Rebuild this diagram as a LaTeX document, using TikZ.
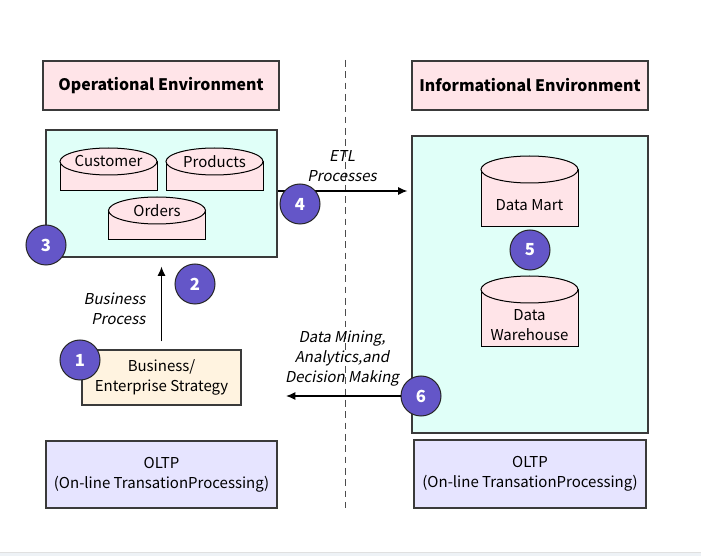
\documentclass[tikz,border=0pt]{standalone}
\usepackage{fontspec}
\setmainfont{Noto Sans CJK KR}[AutoFakeSlant=0.2]
\usetikzlibrary{shapes.geometric,arrows.meta,calc}
\definecolor{envpink}{HTML}{FFE4E8}
\definecolor{envcyan}{HTML}{E0FFF8}
\definecolor{bizpeach}{HTML}{FFF3E0}
\definecolor{oltplav}{HTML}{E6E4FF}
\definecolor{stepblue}{HTML}{6456C8}
\definecolor{edgegray}{HTML}{3A3A3A}
\definecolor{bandgray}{HTML}{EEF2F6}

\begin{document}
\begin{tikzpicture}[x=0.75pt,y=-0.75pt,
  every node/.append style={font=\fontsize{11.25}{15}\selectfont},
  envtitle/.style={draw=edgegray,line width=0.9pt,fill=envpink,minimum width=177pt,minimum height=36.75pt,font=\fontsize{11.9}{15}\selectfont\bfseries},
  envarea/.style={draw=edgegray,line width=0.9pt,fill=envcyan},
  dbbody/.style={draw=black,line width=0.75pt,fill=envpink,minimum width=72.75pt,inner sep=0pt},
  dblid/.style={ellipse,draw=black,line width=0.75pt,fill=envpink,minimum width=72.75pt,minimum height=20.25pt,inner sep=0pt},
  plainbox/.style={draw=edgegray,line width=0.9pt,align=center},
  stepdot/.style={circle,draw=black!85,line width=0.75pt,fill=stepblue,text=white,minimum size=30pt,inner sep=0pt,font=\fontsize{12.5}{12}\selectfont\bfseries},
  flow/.style={-{Latex[length=7pt,width=6pt]},line width=0.9pt},
  note/.style={font=\fontsize{11.25}{15}\selectfont\itshape,align=center}]
\useasboundingbox (0,0) rectangle (701,556);
\fill[bandgray] (0,552) rectangle (701,556); % page edge
\draw[black!12] (0,552) -- (701,552);

% divider
\coordinate (divTop) at (345,60);
\coordinate (divBot) at (345,508);
\draw[dashed,dash pattern=on 5pt off 3.5pt,black!70,line width=0.75pt] (divTop) -- (divBot);

% titles
\node[envtitle] (opEnv) at (161,85.5) {Operational Environment};
\node[envtitle] (infEnv) at (530,85.5) {Informational Environment};

% environments
\node[envarea,minimum width=173.25pt,minimum height=95.25pt] (opBox) at (161.5,193.5) {};
\node[envarea,minimum width=177pt,minimum height=222.75pt] (infBox) at (530,284.5) {};

% operational databases
\node[dbbody,minimum height=22.1pt] (custBody) at (108.5,176.25) {};
\node[dblid] (custLid) at (108.5,161.5) {Customer};
\node[dbbody,minimum height=22.1pt] (prodBody) at (214.5,176.25) {};
\node[dblid] (prodLid) at (214.5,161.5) {Products};
\node[dbbody,minimum height=22.1pt] (ordBody) at (157,225.25) {};
\node[dblid] (ordLid) at (157,210.5) {Orders};

% informational databases
\node[dbbody,minimum height=42.4pt] (martBody) at (529.5,197.75) {};
\node[dblid] (martLid) at (529.5,169.5) {};
\node (martTxt) at ($(martLid.south)!0.5!(martBody.south)$) {Data Mart};
\node[dbbody,minimum height=42.4pt] (whBody) at (529.5,317.75) {};
\node[dblid] (whLid) at (529.5,289.5) {};
\node[align=center] (whTxt) at ($(whLid.south)!0.5!(whBody.south)$) {Data\\Warehouse};

% strategy and OLTP
\node[plainbox,fill=bizpeach,minimum width=119.25pt,minimum height=41.25pt] (biz) at (161.5,377.5) {Business/\\Enterprise Strategy};
\node[plainbox,fill=oltplav,minimum width=173.25pt,minimum height=50.25pt] (oltpL) at (161.5,474.5) {OLTP\\(On-line TransationProcessing)};
\node[plainbox,fill=oltplav,minimum width=174pt,minimum height=51pt] (oltpR) at (530,474) {OLTP\\(On-line TransationProcessing)};

% flows
\draw[flow,shorten <=6pt,shorten >=6.75pt] (biz.north) -- (opBox.south);
\node[note,align=right,anchor=east] (bpTxt) at (150,309) {Business\\Process};
\coordinate (etlStart) at ($(opBox.east)+(0,-2.5)$);
\draw[flow,shorten >=3pt] (etlStart) -- (etlStart -| infBox.west);
\node[note] (etlTxt) at (342,166) {ETL\\Processes};
\coordinate (dmEnd) at (286,396);
\node[note] (dmTxt) at (342,359) {Data Mining,\\Analytics,and\\Decision Making};

% steps
\node[stepdot] (s1) at (80,360) {1};
\node[stepdot] (s2) at (195,284) {2};
\node[stepdot] (s3) at (46,245) {3};
\node[stepdot] (s4) at (300,204) {4};
\node[stepdot] (s5) at (530,250) {5};
\node[stepdot] (s6) at (421,396) {6};
\draw[flow] (s6.west) -- (dmEnd);
\end{tikzpicture}
\end{document}
